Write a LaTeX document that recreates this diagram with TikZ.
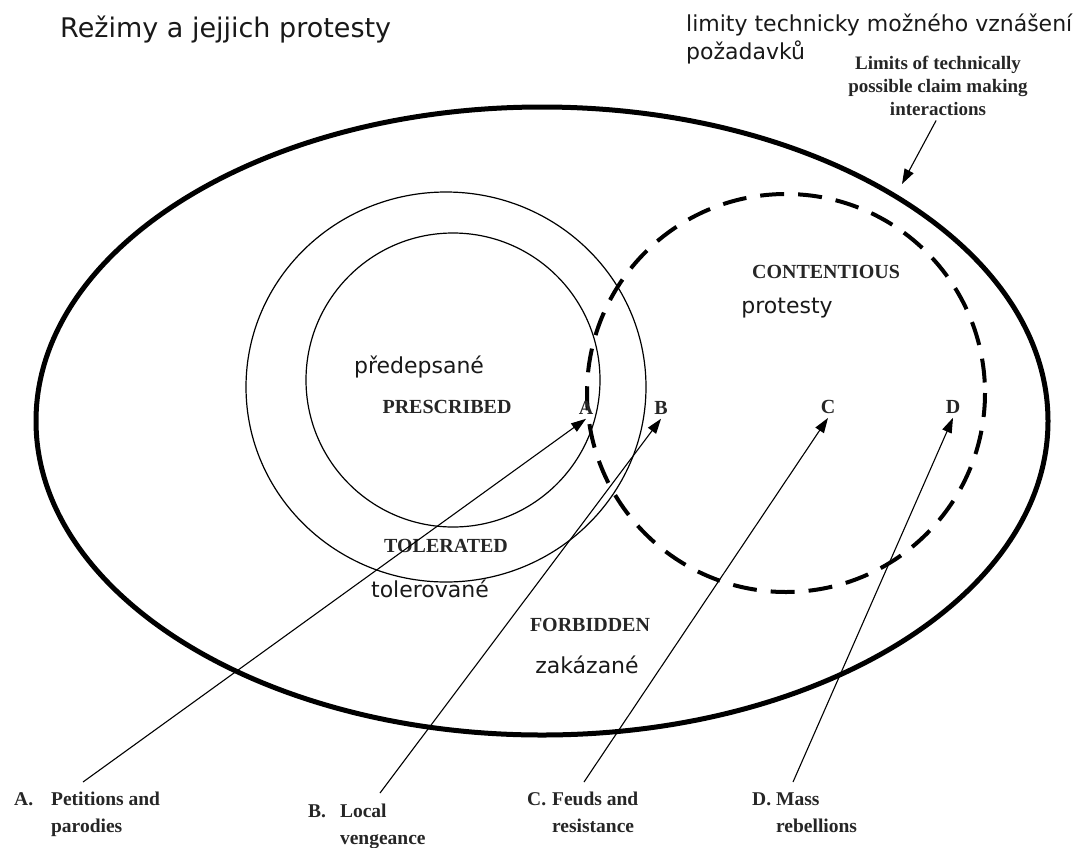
\documentclass[tikz,border=0pt]{standalone}
\usepackage{fontspec}
\setmainfont{Liberation Serif}
\newfontfamily\czfont{DejaVu Sans}
\usetikzlibrary{arrows.meta}

\tikzset{
  etiq/.style={font=\fontsize{20}{24}\selectfont\bfseries, text=black!85, inner sep=1pt},
  letra/.style={etiq, inner sep=4pt},
  cz/.style={font=\czfont\fontsize{22}{28}\selectfont, text=black!90, inner sep=0pt},
  pie/.style={font=\fontsize{19.5}{27}\selectfont\bfseries, text=black!85, inner sep=0pt, anchor=north west},
  flecha/.style={-{Triangle[length=15pt,width=10pt]}, line width=1.1pt},
  fino/.style={line width=1.2pt},
}

\begin{document}
\begin{tikzpicture}[x=1pt,y=-1pt]
\useasboundingbox (0,0) rectangle (1087,847);

% Titulo y textos de arriba
\node[cz, font=\czfont\fontsize{27}{32}\selectfont, anchor=west] (titulo) at (60,30) {Režimy a jejjich protesty};
\node[cz, anchor=north west, align=left] (limity) at (686,14) {limity technicky možného vznášení\\požadavků};
\node[etiq, align=center, font=\fontsize{19}{23}\selectfont\bfseries] (limites) at (938,86) {Limits of technically\\possible claim making\\interactions};

% Elipse exterior y circulos
\draw[line width=5pt] (542,421) ellipse [x radius=506, y radius=314];
\draw[fino] (446,387) ellipse [x radius=200, y radius=195];
\draw[fino] (453,380) circle [radius=147];
\draw[line width=4pt, dash pattern=on 24pt off 14pt] (786,393) circle [radius=199];

% Textos dentro
\node[cz] (predepsane) at (419,367) {předepsané};
\node[etiq] (prescribed) at (447,407) {PRESCRIBED};
\node[etiq] (tolerated) at (446,546) {TOLERATED};
\node[cz] (tolerovane) at (430,589) {tolerované};
\node[etiq] (contentious) at (826,272) {CONTENTIOUS};
\node[cz] (protesty) at (787,308) {protesty};
\node[etiq] (forbidden) at (590,625) {FORBIDDEN};
\node[cz] (zakazane) at (587,665) {zakázané};

% Letras
\node[letra] (A) at (586,408) {A};
\node[letra] (B) at (661,408) {B};
\node[letra] (C) at (828,407) {C};
\node[letra] (D) at (953,407) {D};

% Etiquetas de abajo
\node[pie] (pieA) at (14,786) {\begin{tabular}{@{}l@{\hspace{18pt}}l@{}}A. & Petitions and\\ & parodies\end{tabular}};
\node[pie] (pieB) at (308,798) {\begin{tabular}{@{}l@{\hspace{14pt}}l@{}}B. & Local\\ & vengeance\end{tabular}};
\node[pie] (pieC) at (527,786) {\begin{tabular}{@{}l@{\hspace{6pt}}l@{}}C. & Feuds and\\ & resistance\end{tabular}};
\node[pie] (pieD) at (752,786) {\begin{tabular}{@{}l@{\hspace{5pt}}l@{}}D. & Mass\\ & rebellions\end{tabular}};

% Flechas
\coordinate (colaA) at (83,782);
\coordinate (colaB) at (380,793);
\coordinate (colaC) at (584,782);
\coordinate (colaD) at (793,782);
\coordinate (limfin) at (902,184);
\draw[flecha] (colaA) -- (A.south);
\draw[flecha] (colaB) -- (B.south);
\draw[flecha] (colaC) -- (C.south);
\draw[flecha] (colaD) -- (D.south);
\draw[flecha, shorten <=4pt] (limites.south) -- (limfin);
\end{tikzpicture}
\end{document}
